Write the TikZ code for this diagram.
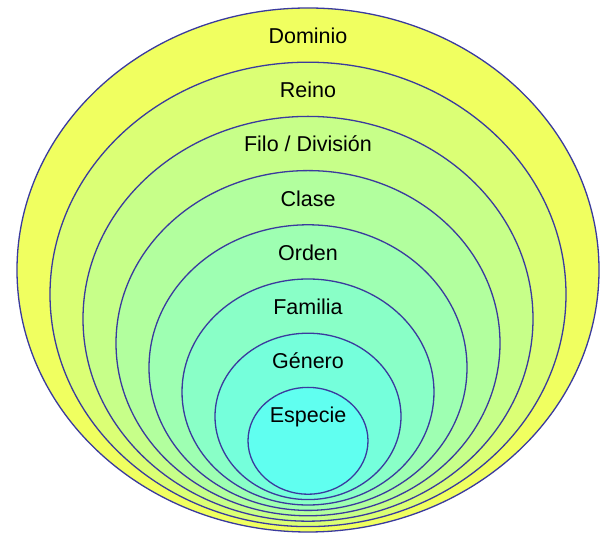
\documentclass[tikz,border=0pt]{standalone}
\usepackage{fontspec}
\setmainfont{Liberation Sans}
\usetikzlibrary{shapes.geometric}
\definecolor{ringline}{HTML}{3A3A9E}
\begin{document}
\begin{tikzpicture}[x=1pt,y=1pt,
  ring/.style={ellipse, draw=ringline, line width=1.3pt, inner sep=0pt},
  lab/.style={font=\fontsize{21.5}{24}\selectfont, text=black, inner sep=0pt, anchor=base}]
\useasboundingbox (0,0) rectangle (608,535);
\fill[white] (0,0) rectangle (608,535);
\foreach \i/\nm/\txt in {0/dominio/Dominio,1/reino/Reino,2/filo/{Filo / División},3/clase/Clase,4/orden/Orden,5/familia/Familia,6/genero/Género,7/especie/Especie}{
  \pgfmathsetmacro{\rr}{240-20.57*\i}
  \pgfmathsetmacro{\bb}{96+20.57*\i}
  \definecolor{fillc}{RGB}{\rr,255,\bb}
  \pgfmathsetmacro{\rx}{291-33*\i}
  \pgfmathsetmacro{\ry}{262-29.8*\i}
  \pgfmathsetmacro{\cy}{265-24.4*\i}
  \pgfmathsetmacro{\ly}{491.5-54.2*\i}
  \node[ring, fill=fillc, minimum width=2*\rx pt, minimum height=2*\ry pt] (e\nm) at (308,\cy) {};
  \node[lab] (t\nm) at (308,\ly) {\txt};
}
\end{tikzpicture}
\end{document}
